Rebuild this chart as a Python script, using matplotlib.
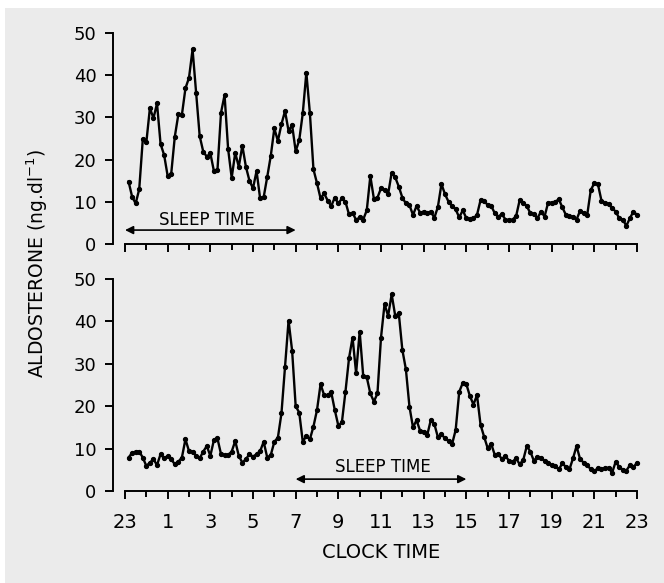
import numpy as np
import matplotlib.pyplot as plt
from matplotlib.patches import Rectangle

# aldosterone (ng/dl), one sample every 10 min starting 23:10
top_vals = [14.8, 11.2, 9.6, 13.0, 24.8, 24.1, 32.2, 29.8, 33.3, 23.7,
            21.1, 16.1, 16.7, 25.4, 30.7, 30.6, 36.9, 39.4, 46.1, 35.9,
            25.6, 21.9, 20.7, 21.5, 17.3, 17.5, 31.1, 35.3, 22.5, 15.7,
            21.6, 18.3, 23.3, 18.3, 15.0, 13.2, 17.3, 10.8, 11.1, 15.9,
            20.9, 27.4, 24.4, 28.4, 31.5, 26.8, 28.2, 22.0, 24.6, 31.0,
            40.6, 31.0, 17.7, 14.4, 10.8, 12.0, 10.3, 9.0, 11.0, 9.6,
            10.8, 10.0, 7.0, 7.4, 5.7, 6.3, 5.8, 8.0, 16.1, 10.7,
            11.0, 13.2, 12.8, 11.8, 16.9, 15.8, 13.6, 11.0, 9.6, 9.2,
            6.9, 9.0, 7.4, 7.7, 7.4, 7.7, 6.2, 8.8, 14.2, 11.8,
            10.0, 9.0, 8.2, 6.3, 8.0, 6.1, 5.9, 6.1, 6.9, 10.4,
            10.3, 9.2, 9.0, 7.3, 6.5, 7.1, 5.8, 5.7, 5.8, 6.6,
            10.4, 9.8, 9.0, 7.3, 7.1, 6.1, 7.7, 6.5, 9.8, 9.8,
            10.0, 10.6, 8.7, 6.9, 6.6, 6.5, 5.8, 7.9, 7.3, 6.9,
            12.8, 14.4, 14.2, 10.3, 9.8, 9.5, 8.5, 7.7, 6.1, 5.8,
            4.3, 6.1, 7.7, 6.9]

bottom_vals = [7.9, 9.0, 9.3, 9.3, 7.9, 5.9, 6.7, 7.5, 6.1, 8.7,
               7.7, 8.3, 7.5, 6.3, 6.9, 7.9, 12.2, 9.4, 9.3, 8.3,
               7.7, 9.3, 10.6, 8.3, 12.0, 12.4, 8.7, 8.5, 8.5, 9.3,
               11.8, 8.3, 6.7, 7.5, 8.7, 8.1, 8.7, 9.4, 11.6, 7.9,
               8.5, 11.6, 12.6, 18.3, 29.3, 40.2, 33.1, 20.0, 18.5, 11.6,
               13.0, 12.2, 15.2, 19.1, 25.2, 22.6, 22.6, 23.3, 19.1, 15.4,
               16.2, 23.4, 31.3, 36.2, 27.8, 37.6, 27.1, 26.8, 23.0, 21.1,
               23.0, 36.2, 44.1, 41.3, 46.4, 41.3, 41.9, 33.3, 28.7, 19.9,
               15.0, 16.7, 14.2, 14.0, 13.2, 16.7, 15.8, 12.7, 13.4, 12.4,
               11.8, 11.1, 14.4, 23.4, 25.5, 25.2, 22.4, 20.4, 22.6, 15.6,
               12.8, 10.1, 11.1, 8.5, 8.7, 7.5, 8.3, 7.1, 6.9, 7.7,
               6.3, 7.3, 10.6, 9.3, 7.1, 8.1, 7.9, 7.1, 6.5, 6.1,
               5.9, 5.1, 6.5, 5.7, 5.1, 7.7, 10.6, 7.5, 6.7, 6.1,
               5.1, 4.7, 5.4, 5.2, 5.4, 5.5, 4.3, 6.9, 5.7, 5.0,
               4.8, 6.1, 5.6, 6.7]

hour_labels = ['23', '1', '3', '5', '7', '9', '11', '13', '15', '17', '19', '21', '23']
sleep_top = (0, 8)       # 23:00 -> 07:00, hours after 23:00
sleep_bottom = (8, 16)   # 07:00 -> 15:00

t_top = np.arange(1, len(top_vals) + 1) / 6.0
t_bot = np.arange(1, len(bottom_vals) + 1) / 6.0

plt.rcParams['font.family'] = 'DejaVu Sans'

W, H = 664, 583
fig = plt.figure(figsize=(W / 100, H / 100), dpi=100, facecolor='white')
fig.patches.append(Rectangle((5 / W, 0), 1 - 5 / W, 1 - 8 / H, transform=fig.transFigure,
                             facecolor='#ebebeb', edgecolor='none', zorder=-10))

left = 113 / W
width = 524 / W
ax1 = fig.add_axes([left, (H - 244) / H, width, 211 / H])
ax2 = fig.add_axes([left, (H - 491) / H, width, 212 / H])

for ax, t, v, sl, ty in [(ax1, t_top, top_vals, sleep_top, 3.3),
                         (ax2, t_bot, bottom_vals, sleep_bottom, 2.8)]:
    ax.set_facecolor('none')
    ax.plot(t, v, color='black', lw=1.7, marker='o', ms=2.8, clip_on=False)
    ax.set_xlim(-0.563, 24)
    ax.set_ylim(0, 50)
    for s in ['top', 'right']:
        ax.spines[s].set_visible(False)
    ax.spines['left'].set_bounds(0, 50)
    ax.spines['bottom'].set_bounds(0, 24)
    ax.spines['left'].set_linewidth(1.4)
    ax.spines['bottom'].set_linewidth(1.4)
    ax.set_yticks([0, 10, 20, 30, 40, 50])
    ax.set_xticks(np.arange(0, 25, 2))
    ax.set_xticks(np.arange(1, 24, 2), minor=True)
    ax.tick_params(axis='y', length=6, width=1.4, pad=6, labelsize=13)
    ax.tick_params(axis='x', which='major', length=6, width=1.4, pad=10, labelsize=14)
    ax.tick_params(axis='x', which='minor', length=4, width=1.4)
    ax.annotate('', xy=(sl[1], ty), xytext=(sl[0], ty),
                arrowprops=dict(arrowstyle='<|-|>', color='black', lw=1.2,
                                mutation_scale=12, shrinkA=0, shrinkB=0))

ax1.set_xticklabels([])
ax2.set_xticklabels(hour_labels)
ax1.text(3.83, 5.8, 'SLEEP TIME', ha='center', va='center', fontsize=12)
ax2.text(12.1, 5.6, 'SLEEP TIME', ha='center', va='center', fontsize=12)

fig.text(37 / W, 1 - 263 / H, r'ALDOSTERONE (ng.dl$^{\mathregular{-1}}$)',
         rotation=90, ha='center', va='center', fontsize=13.5)
fig.text(381 / W, 1 - 553 / H, 'CLOCK TIME', ha='center', va='center', fontsize=14)

fig.savefig('out.png', dpi=100, facecolor=fig.get_facecolor())
